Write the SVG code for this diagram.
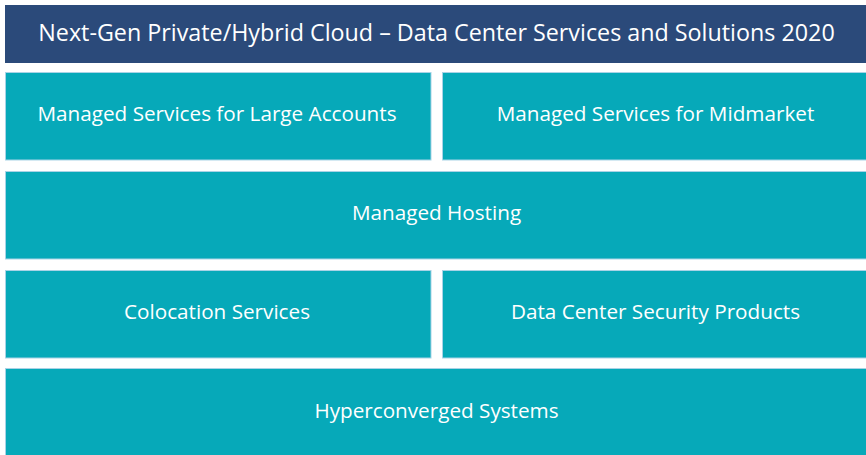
<svg xmlns="http://www.w3.org/2000/svg" width="866" height="455" viewBox="0 0 866 455">
<style>
.hdr{fill:#2b4a7a}
.box{fill:#06a9b9;stroke:#a9d3e6;stroke-width:1}
.t{font-family:"Open Sans","Liberation Sans",sans-serif;fill:#ffffff;text-anchor:middle}
.th{font-size:23.3px}
.tb{font-size:20.7px}
</style>
<rect width="866" height="455" fill="#ffffff"/>
<g id="header"><rect class="hdr" x="5" y="5" width="862" height="58"/><text class="t th" x="436.5" y="41">Next-Gen Private/Hybrid Cloud – Data Center Services and Solutions 2020</text></g>
<g id="large"><rect class="box" x="5.5" y="72.5" width="425.5" height="87.5"/><text class="t tb" x="217" y="121">Managed Services for Large Accounts</text></g>
<g id="midmarket"><rect class="box" x="442.5" y="72.5" width="425" height="87.5"/><text class="t tb" x="655.5" y="121">Managed Services for Midmarket</text></g>
<g id="hosting"><rect class="box" x="5.5" y="171.5" width="862" height="87.5"/><text class="t tb" x="436.5" y="220">Managed Hosting</text></g>
<g id="colocation"><rect class="box" x="5.5" y="270.5" width="425.5" height="87.5"/><text class="t tb" x="217" y="319">Colocation Services</text></g>
<g id="security"><rect class="box" x="442.5" y="270.5" width="425" height="87.5"/><text class="t tb" x="655.5" y="319">Data Center Security Products</text></g>
<g id="hyperconverged"><rect class="box" x="5.5" y="368.5" width="862" height="90"/><text class="t tb" x="436.5" y="418">Hyperconverged Systems</text></g>
<g id="connectors"></g>
</svg>
